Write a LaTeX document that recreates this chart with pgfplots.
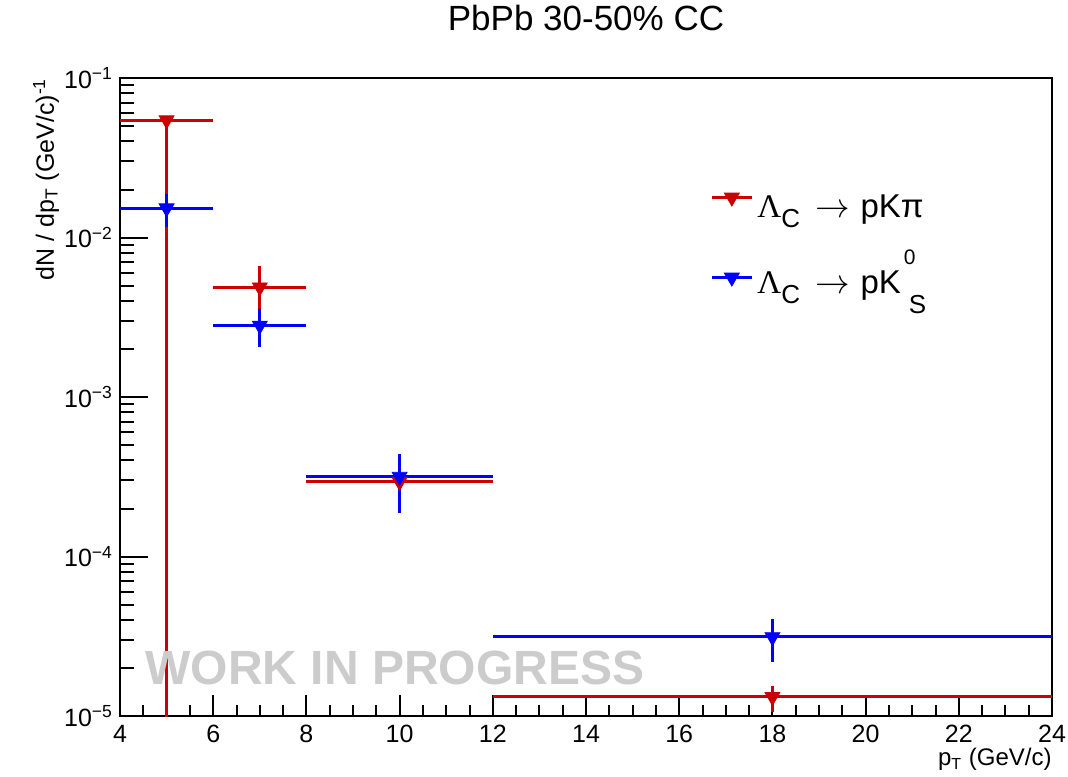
\documentclass[border=0pt]{standalone}
\usepackage{fontspec}
\setmainfont{Liberation Sans}
\newfontfamily\serifgreek{Liberation Serif}
\usepackage{pgfplots}
\usepackage{pgfplotstable}
\pgfplotsset{compat=1.18}
\definecolor{rootred}{RGB}{204,0,0}
\definecolor{rootblue}{RGB}{0,0,255}
\definecolor{wipgray}{RGB}{204,204,204}

\pgfplotstableread{
x y ex eyp eym
5 0.0545 1 0 0.0544999
7 4.88e-3 1 1.71e-3 1.48e-3
10 2.94e-4 2 1.2e-4 1.0e-4
18 1.32e-5 6 0.23e-5 0.26e-5
}\redtab

\pgfplotstableread{
x y ex eyp eym
5 0.01527 1 0.00343 0.00368
7 2.81e-3 1 0.73e-3 0.74e-3
10 3.17e-4 2 1.25e-4 1.29e-4
18 3.13e-5 6 0.93e-5 0.95e-5
}\bluetab

\newcommand{\subfont}{\fontsize{13}{15}\selectfont}
\newcommand{\lstrut}{\rule[-11pt]{0pt}{34pt}}

\begin{document}
\begin{tikzpicture}
\path[use as bounding box] (0,0) rectangle (534pt,388pt);
% x ticks axis
\begin{axis}[
  at={(60pt,30pt)}, anchor=south west,
  scale only axis, width=466pt, height=319pt,
  xmin=4, xmax=24, ymin=0, ymax=1,
  ytick=\empty,
  xtick={4,6,...,24}, minor x tick num=3,
  xtick pos=bottom,
  major tick length=10.5pt, minor tick length=5.5pt,
  tick style={black, line width=1pt},
  axis line style={line width=1pt},
  /pgf/number format/assume math mode=true,
  xticklabel style={font=\fontsize{12.5}{14}\selectfont, yshift=-1pt},
  xlabel={p\textsubscript{T} (GeV/c)},
  xlabel style={at={(axis description cs:1,0)}, anchor=north east, inner sep=0pt, yshift=-16pt, font=\fontsize{12}{14}\selectfont},
]
\end{axis}
\begin{axis}[
  at={(60pt,30pt)}, anchor=south west,
  scale only axis, width=466pt, height=319pt,
  xmin=4, xmax=24, ymin=1e-5, ymax=1e-1, ymode=log,
  xtick=\empty,
  ytick={1e-5,1e-4,1e-3,1e-2,1e-1},
  yticklabels={10\textsuperscript{−5},10\textsuperscript{−4},10\textsuperscript{−3},10\textsuperscript{−2},10\textsuperscript{−1}},
  minor ytick={2e-5,3e-5,4e-5,5e-5,6e-5,7e-5,8e-5,9e-5,2e-4,3e-4,4e-4,5e-4,6e-4,7e-4,8e-4,9e-4,2e-3,3e-3,4e-3,5e-3,6e-3,7e-3,8e-3,9e-3,2e-2,3e-2,4e-2,5e-2,6e-2,7e-2,8e-2,9e-2},
  ytick pos=left,
  major tick length=14pt, minor tick length=7pt,
  tick style={black, line width=1pt},
  axis line style={line width=1pt},
  yticklabel style={font=\fontsize{12.5}{14}\selectfont},
  ylabel={dN / dp\textsubscript{T} (GeV/c)\textsuperscript{-1}},
  ylabel style={at={(axis description cs:-0.065,1)}, anchor=south east, inner sep=0pt, font=\fontsize{12.5}{14}\selectfont},
  title={PbPb 30-50\% CC},
  title style={at={(axis description cs:0.5,1)}, anchor=base, yshift=18pt, font=\fontsize{17.5}{20}\selectfont},
  legend style={at={(axis description cs:0.633,0.8605)}, anchor=north west, draw=none, fill=none,
     font=\fontsize{16.5}{19}\selectfont, row sep=9.5pt, inner sep=0pt},
  legend cell align=left,
]
\addplot[rootred, only marks, mark=triangle*, mark size=4.3pt,
  mark options={rotate=180, solid, fill=rootred, draw=rootred},
  legend image code/.code={
    \draw[line width=1.5pt] (0pt,-0.76pt) -- (20pt,-0.76pt);
    \draw[mark repeat=2, mark phase=2] plot coordinates {(0pt,-0.76pt) (10pt,-0.76pt) (20pt,-0.76pt)};
  },
  error bars/.cd, x dir=both, x explicit, y dir=both, y explicit,
  error bar style={line width=1.5pt, rootred}, error mark=none]
  table[x=x, y=y, x error=ex, y error plus=eyp, y error minus=eym]{\redtab};
\addlegendentry{\lstrut{\serifgreek Λ}\raise-5pt\hbox{\subfont C}\hspace{7.5pt}$\rightarrow$\hspace{5.5pt}pKπ}
\addplot[rootblue, only marks, mark=triangle*, mark size=4.3pt,
  mark options={rotate=180, solid, fill=rootblue, draw=rootblue},
  legend image code/.code={
    \draw[line width=1.5pt] (0pt,-2.76pt) -- (20pt,-2.76pt);
    \draw[mark repeat=2, mark phase=2] plot coordinates {(0pt,-2.76pt) (10pt,-2.76pt) (20pt,-2.76pt)};
  },
  error bars/.cd, x dir=both, x explicit, y dir=both, y explicit,
  error bar style={line width=1.5pt, rootblue}, error mark=none]
  table[x=x, y=y, x error=ex, y error plus=eyp, y error minus=eym]{\bluetab};
\addlegendentry{\lstrut{\serifgreek Λ}\raise-5pt\hbox{\subfont C}\hspace{7.5pt}$\rightarrow$\hspace{5.5pt}pK\rlap{\kern1.5pt\raise14.5pt\hbox{\fontsize{10.5}{12}\selectfont 0}}\hspace{4pt}\raise-10pt\hbox{\subfont S}}
\node[anchor=base west, text=wipgray, font=\bfseries\fontsize{24}{28}\selectfont, inner sep=0pt] at (axis cs:4.54,1.57e-5) {WORK IN PROGRESS};
\end{axis}
\end{tikzpicture}
\end{document}
